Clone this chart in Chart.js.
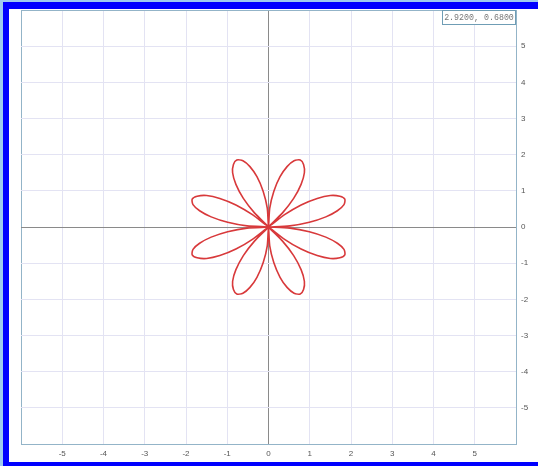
<!DOCTYPE html>
<html>
<head>
<meta charset="utf-8">
<script src="https://cdn.jsdelivr.net/npm/chart.js@4/dist/chart.umd.min.js"></script>
<style>
  html, body { margin: 0; padding: 0; background: #ffffff; }
  #wrap { position: relative; width: 538px; height: 466px; overflow: hidden; background: #fff; }
  #c { position: absolute; left: 0; top: 0; }
  .f { position: absolute; }
  #coord { position: absolute; left: 442px; top: 10px; width: 74px; height: 15px;
    border: 1px solid #6f9db5; background: #fff; font-family: "Liberation Mono", "DejaVu Sans Mono", monospace;
    font-size: 8.3px; line-height: 13px; color: #777; text-align: center; box-sizing: border-box;
    white-space: nowrap; overflow: hidden; }
</style>
</head>
<body>
<div id="wrap">
  <canvas id="c" width="538" height="466"></canvas>
  <div class="f" style="left:0;top:0;width:538px;height:2px;background:#9fcbef"></div>
  <div class="f" style="left:0;top:0;width:3px;height:466px;background:#9fcbef"></div>
  <div class="f" style="left:3px;top:2px;width:535px;height:7px;background:#0000ff"></div>
  <div class="f" style="left:3px;top:2px;width:6px;height:464px;background:#0000ff"></div>
  <div class="f" style="left:3px;top:462px;width:535px;height:4px;background:#0000ff"></div>
  <div id="coord">2.9200, 0.6800</div>
</div>
<script>
// Rose curve points, petal by petal (x, y)
const petalX = [
  0, 0.52, 0.99, 1.39, 1.67, 1.83, 1.85, 1.73, 1.50, 1.18, 0.79, 0.39,
  0, 0.34, 0.61, 0.79, 0.87, 0.85, 0.77, 0.62, 0.45, 0.28, 0.13, 0.03,
  0, -0.03, -0.13, -0.28, -0.45, -0.62, -0.77, -0.85, -0.87, -0.79, -0.61, -0.34,
  0, -0.39, -0.79, -1.18, -1.50, -1.73, -1.85, -1.83, -1.67, -1.39, -0.99, -0.52,
  0, -0.52, -0.99, -1.39, -1.67, -1.83, -1.85, -1.73, -1.50, -1.18, -0.79, -0.39,
  0, -0.34, -0.61, -0.79, -0.87, -0.85, -0.77, -0.62, -0.45, -0.28, -0.13, -0.03,
  0, 0.03, 0.13, 0.28, 0.45, 0.62, 0.77, 0.85, 0.87, 0.79, 0.61, 0.34,
  0, 0.39, 0.79, 1.18, 1.50, 1.73, 1.85, 1.83, 1.67, 1.39, 0.99, 0.52,
  0
];
const petalY = [
  0, 0.03, 0.13, 0.28, 0.45, 0.62, 0.77, 0.85, 0.87, 0.79, 0.61, 0.34,
  0, 0.39, 0.79, 1.18, 1.50, 1.73, 1.85, 1.83, 1.67, 1.39, 0.99, 0.52,
  0, 0.52, 0.99, 1.39, 1.67, 1.83, 1.85, 1.73, 1.50, 1.18, 0.79, 0.39,
  0, 0.34, 0.61, 0.79, 0.87, 0.85, 0.77, 0.62, 0.45, 0.28, 0.13, 0.03,
  0, -0.03, -0.13, -0.28, -0.45, -0.62, -0.77, -0.85, -0.87, -0.79, -0.61, -0.34,
  0, -0.39, -0.79, -1.18, -1.50, -1.73, -1.85, -1.83, -1.67, -1.39, -0.99, -0.52,
  0, -0.52, -0.99, -1.39, -1.67, -1.83, -1.85, -1.73, -1.50, -1.18, -0.79, -0.39,
  0, -0.34, -0.61, -0.79, -0.87, -0.85, -0.77, -0.62, -0.45, -0.28, -0.13, -0.03,
  0
];
const xTickLabels = ['-5','-4','-3','-2','-1','0','1','2','3','4','5'];
const yTickLabels = ['-5','-4','-3','-2','-1','0','1','2','3','4','5'];
const axisMin = -6, axisMax = 6;

const points = petalX.map((x, i) => ({ x: x, y: petalY[i] }));

function gridColor(ctx) {
  const v = ctx.tick ? ctx.tick.value : null;
  if (v === 0) return '#8a8a8a';
  if (v === axisMin || v === axisMax) return '#93b4c8';
  return '#e3e3f3';
}
function tickLabel(labels) {
  return function (v) {
    const s = String(v);
    return labels.includes(s) ? s : '';
  };
}

new Chart(document.getElementById('c'), {
  type: 'scatter',
  data: {
    datasets: [{
      data: points,
      showLine: true,
      borderColor: '#d8393b',
      borderWidth: 1.6,
      pointRadius: 0,
      tension: 0.25,
      fill: false
    }]
  },
  options: {
    responsive: false,
    animation: false,
    events: [],
    layout: { padding: { left: 21, top: 10, right: 0, bottom: 0 } },
    plugins: { legend: { display: false }, tooltip: { enabled: false } },
    scales: {
      x: {
        type: 'linear', min: axisMin, max: axisMax,
        afterFit: s => { s.height = 22; },
        border: { display: true, color: '#93b4c8', width: 1 },
        grid: { color: gridColor, lineWidth: 1, drawTicks: false },
        ticks: { stepSize: 1, padding: 5, maxRotation: 0, autoSkip: false,
          color: '#555', font: { family: 'Arial, "Liberation Sans", sans-serif', size: 8 },
          callback: tickLabel(xTickLabels) }
      },
      y: {
        type: 'linear', position: 'right', min: axisMin, max: axisMax,
        afterFit: s => { s.width = 22; },
        border: { display: true, color: '#93b4c8', width: 1 },
        grid: { color: gridColor, lineWidth: 1, drawTicks: false },
        ticks: { stepSize: 1, padding: 5, autoSkip: false,
          color: '#555', font: { family: 'Arial, "Liberation Sans", sans-serif', size: 8 },
          callback: tickLabel(yTickLabels) }
      }
    }
  }
});
</script>
</body>
</html>
